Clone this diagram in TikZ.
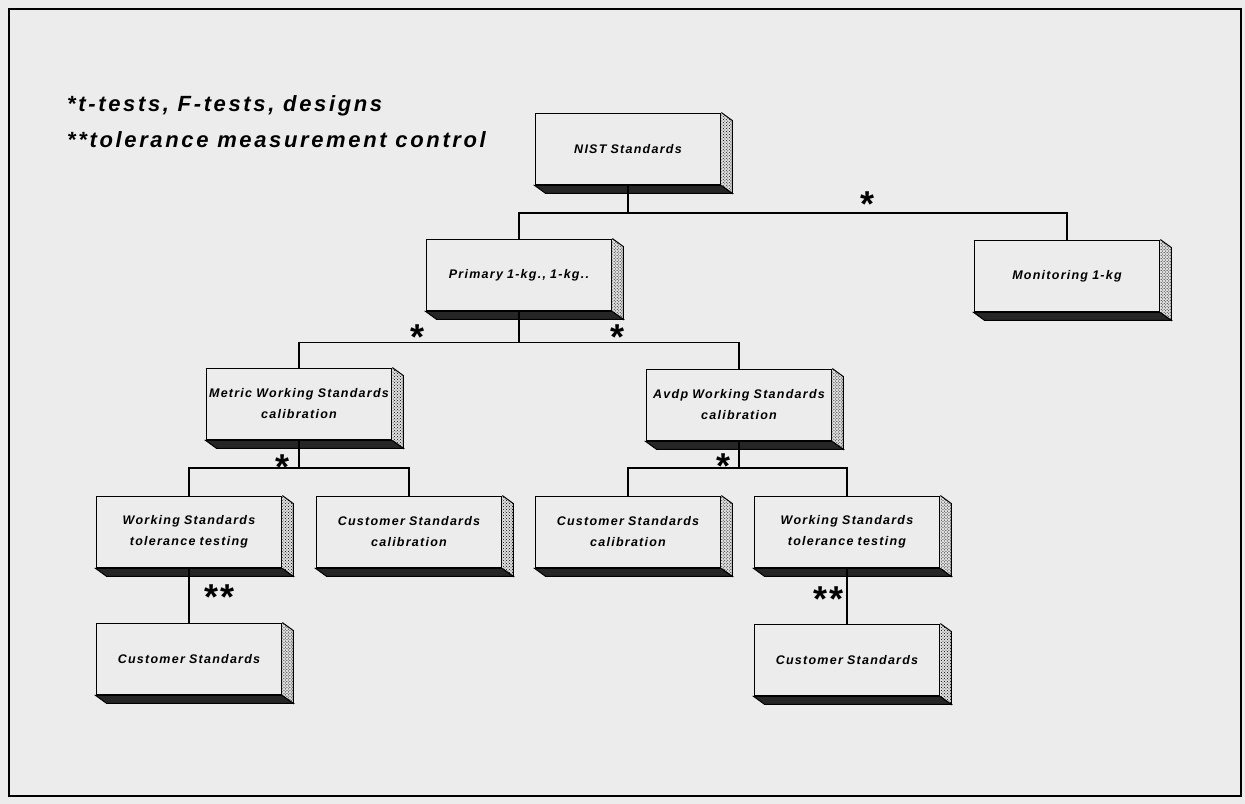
\documentclass[tikz,border=0pt]{standalone}
\usepackage{fontspec}
\setmainfont{Liberation Sans}
\newfontfamily\boxfont{Liberation Sans}[LetterSpace=10]
\newfontfamily\legfont{Liberation Sans}[LetterSpace=12]
\usetikzlibrary{patterns,calc}
\definecolor{bg}{RGB}{236,236,236}
\newcommand\boxdepth[1]{%
  \filldraw[fill=black!85, draw=black, line width=1bp]
    (#1.south west) -- (#1.south east) -- ($(#1.south east)+(11,8)$) -- ($(#1.south west)+(11,8)$) -- cycle;
  \fill[gray!25]
    (#1.north east) -- ($(#1.north east)+(11,8)$) -- ($(#1.south east)+(11,8)$) -- (#1.south east) -- cycle;
  \fill[pattern=crosshatch dots, pattern color=black]
    (#1.north east) -- ($(#1.north east)+(11,8)$) -- ($(#1.south east)+(11,8)$) -- (#1.south east) -- cycle;
  \draw[line width=1bp]
    (#1.north east) -- ($(#1.north east)+(11,8)$) -- ($(#1.south east)+(11,8)$) -- (#1.south east);
}
\begin{document}
\begin{tikzpicture}[x=1bp,y=-1bp,
  box/.style={rectangle, draw=black, line width=1.8bp, fill=bg,
    minimum width=185bp, minimum height=71bp, text width=185bp,
    inner sep=0pt, align=center,
    font=\boxfont\bfseries\itshape\fontsize{12.5bp}{21bp}\selectfont},
  conn/.style={line width=1.8bp, draw=black},
  astr/.style={font=\bfseries\fontsize{36bp}{36bp}\selectfont, inner sep=0pt, anchor=base},
  legend/.style={font=\legfont\bfseries\itshape\fontsize{22bp}{22bp}\selectfont, inner sep=0pt, anchor=base west}
]
\useasboundingbox (0,0) rectangle (1245,804);
\fill[bg] (0,0) rectangle (1245,804);
\draw[line width=1.8bp] (9,9) rectangle (1241,796);

% legend
\node[legend] (leg1) at (67,112) {*t-tests, F-tests, designs};
\node[legend] (leg2) at (67,147) {**tolerance measurement control};

% boxes
\node[box] (nist)   at (628,149)   {NIST Standards};
\node[box] (prim)   at (519,275)   {Primary 1-kg., 1-kg..};
\node[box] (mon)    at (1067,276)  {Monitoring 1-kg};
\node[box] (metric) at (299,404)   {Metric Working Standards\\calibration};
\node[box] (avdp)   at (739,405)   {Avdp Working Standards\\calibration};
\node[box] (workL)  at (189,532)   {Working Standards\\tolerance testing};
\node[box] (ccalL)  at (409,532)   {Customer Standards\\calibration};
\node[box] (ccalR)  at (628,532)   {Customer Standards\\calibration};
\node[box] (workR)  at (847,532)   {Working Standards\\tolerance testing};
\node[box] (custL)  at (189,659)   {Customer Standards};
\node[box] (custR)  at (847,660)   {Customer Standards};

\foreach \b in {nist,prim,mon,metric,avdp,workL,ccalL,ccalR,workR,custL,custR}{\boxdepth{\b}}

% connectors
\path (nist.south) ++(0,27.5) coordinate (j1);
\draw[conn] (nist.south) -- (j1);
\draw[conn] (prim.north) -- (prim.north |- j1) -- (mon.north |- j1) -- (mon.north);

\path (prim.south) ++(0,31) coordinate (j2);
\draw[conn] (prim.south) -- (j2);
\draw[conn] (metric.north) -- (metric.north |- j2) -- (avdp.north |- j2) -- (avdp.north);

\path (metric.south) ++(0,27.5) coordinate (j3);
\draw[conn] (metric.south) -- (j3);
\draw[conn] (workL.north) -- (workL.north |- j3) -- (ccalL.north |- j3) -- (ccalL.north);

\path (avdp.south) ++(0,26.5) coordinate (j4);
\draw[conn] (avdp.south) -- (j4);
\draw[conn] (ccalR.north) -- (ccalR.north |- j4) -- (workR.north |- j4) -- (workR.north);

\draw[conn] (workL.south) -- (custL.north);
\draw[conn] (workR.south) -- (custR.north);

% asterisks
\node[astr] (s1) at (867,216) {*};
\node[astr] (s2) at (418,349) {*};
\node[astr] (s3) at (617,349) {*};
\node[astr] (s4) at (283,479) {*};
\node[astr] (s5) at (723,478) {*};
\node[astr] (s6) at (220,609) {*\hspace{2bp}*};
\node[astr] (s7) at (829,611) {*\hspace{2bp}*};
\end{tikzpicture}
\end{document}
